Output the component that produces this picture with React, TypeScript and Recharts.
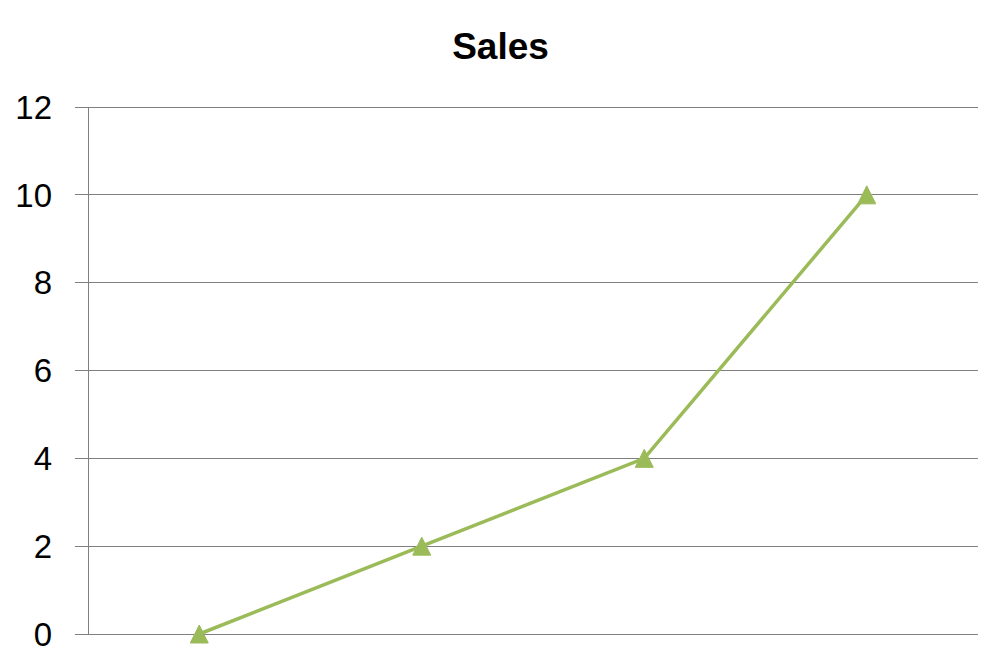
import { LineChart, Line, XAxis, YAxis, CartesianGrid } from "recharts"

// ── Sales (Line Chart) ────────────────────────────────────────
const categories = ["1", "2", "3", "4"]
const sales = [0, 2, 4, 10]
const yTicks = [0, 2, 4, 6, 8, 10, 12]

const data = categories.map((name, i) => ({ name, sales: sales[i] }))

const GREEN = "#9bbb59"
const GRID = "#7f7f7f"

function Triangle(props: any) {
  const { cx, cy } = props
  if (cx == null || cy == null) return null
  return <path d={`M${cx},${cy - 9} L${cx + 9},${cy + 9} L${cx - 9},${cy + 9} Z`} fill={GREEN} stroke={GREEN} strokeWidth={1} />
}

export default function App() {
  return (
    <div style={{ position: "absolute", left: 0, top: 0, width: 1001, height: 668, background: "#fff" }}>
      <div
        style={{
          position: "absolute",
          left: 0,
          top: 28,
          width: 1001,
          textAlign: "center",
          fontFamily: "Liberation Sans",
          fontWeight: "bold",
          fontSize: 37,
          lineHeight: "37px",
          color: "#000",
        }}
      >
        Sales
      </div>
      <LineChart width={1001} height={668} data={data} margin={{ top: 107, right: 23, left: 0, bottom: 34 }}>
        <CartesianGrid vertical={false} stroke={GRID} strokeWidth={1} shapeRendering="crispEdges" />
        <XAxis dataKey="name" scale="band" hide />
        <YAxis
          width={88}
          domain={[0, 12]}
          ticks={yTicks}
          interval={0}
          tickSize={13}
          tickMargin={23}
          axisLine={{ stroke: GRID, shapeRendering: "crispEdges" }}
          tickLine={{ stroke: GRID, shapeRendering: "crispEdges" }}
          tick={{ fill: "#000", fontSize: 33, fontFamily: "Liberation Sans" }}
        />
        <Line
          type="linear"
          dataKey="sales"
          stroke={GREEN}
          strokeWidth={3.5}
          dot={<Triangle />}
          activeDot={false}
          isAnimationActive={false}
        />
      </LineChart>
    </div>
  )
}
